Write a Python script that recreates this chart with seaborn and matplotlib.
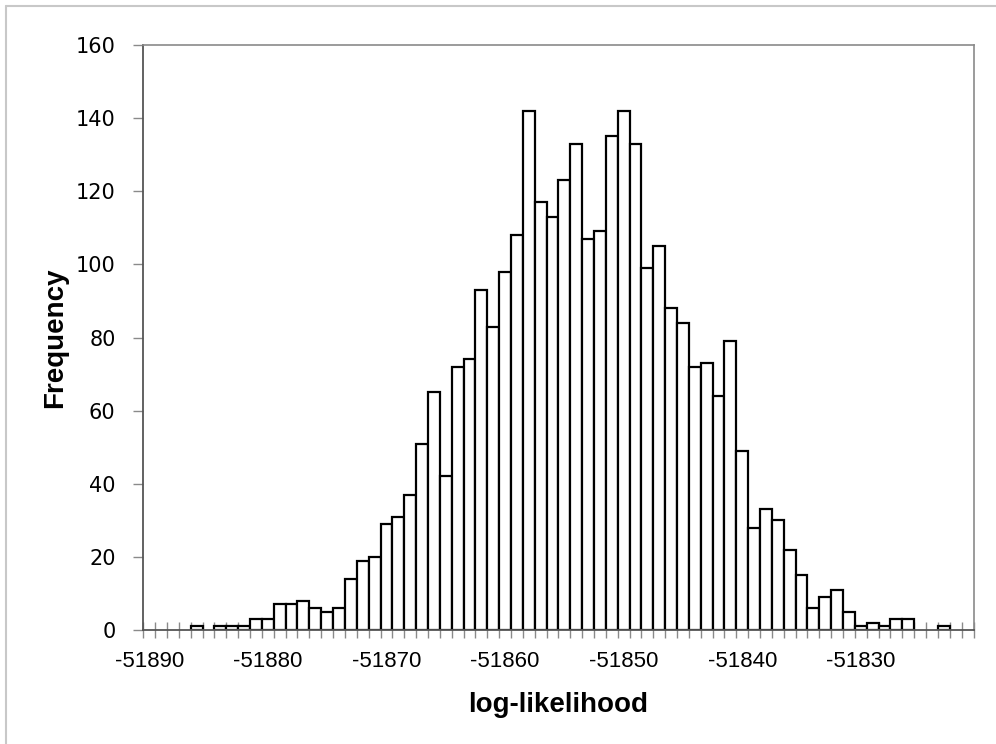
import matplotlib
matplotlib.use("Agg")
import matplotlib.pyplot as plt
import seaborn as sns
from matplotlib.ticker import FixedLocator
from matplotlib.lines import Line2D

# ---- data ----
categories = list(range(-51890, -51820))  # one bin per log-likelihood unit
counts = [0, 0, 0, 0, 1, 0, 1, 1, 1, 3,
          3, 7, 7, 8, 6, 5, 6, 14, 19, 20,
          29, 31, 37, 51, 65, 42, 72, 74, 93, 83,
          98, 108, 142, 117, 113, 123, 133, 107, 109, 135,
          142, 133, 99, 105, 88, 84, 72, 73, 64, 79,
          49, 28, 33, 30, 22, 15, 6, 9, 11, 5,
          1, 2, 1, 3, 3, 0, 0, 1, 0, 0]
x_tick_labels = [-51890, -51880, -51870, -51860, -51850, -51840, -51830]
y_ticks = [0, 20, 40, 60, 80, 100, 120, 140, 160]

sns.set_theme(style="ticks")
plt.rcParams['font.family'] = ['DejaVu Sans']
plt.rcParams['text.color'] = 'black'
plt.rcParams['axes.labelcolor'] = 'black'

W, H = 996, 744
fig = plt.figure(figsize=(W / 100, H / 100), dpi=100)
left, right, top, bottom = 143.3, 973.5, 45, 630
ax = fig.add_axes([left / W, 1 - bottom / H, (right - left) / W, (bottom - top) / H])

sns.histplot(x=categories, weights=counts, discrete=True, color='white',
             edgecolor='black', linewidth=1.6, alpha=1, ax=ax)
for p in ax.patches:
    if p.get_height() == 0:
        p.set_visible(False)

ax.set_xlim(categories[0] - 0.5, categories[-1] + 0.5)
ax.set_ylim(0, 160)
ax.set_yticks(y_ticks)
ax.set_yticklabels([str(v) for v in y_ticks], fontsize=15, family='DejaVu Sans')
ax.set_xticks(x_tick_labels)
ax.set_xticklabels([str(v) for v in x_tick_labels], fontsize=16, family='Liberation Sans')
ax.xaxis.set_minor_locator(FixedLocator([c - 0.5 for c in categories] + [categories[-1] + 0.5]))

ax.tick_params(axis='x', which='major', length=0, pad=15, labelcolor='black')
ax.tick_params(axis='x', which='minor', length=11, direction='inout', width=1.0, color='#8a8a8a')
ax.tick_params(axis='y', which='major', length=7, direction='out', width=1.0, color='#8a8a8a',
               pad=13, labelcolor='black')

for side in ['top', 'right']:
    ax.spines[side].set_color('#8a8a8a')
    ax.spines[side].set_linewidth(1.2)
    ax.spines[side].set_visible(True)
for side in ['left', 'bottom']:
    ax.spines[side].set_color('#555555')
    ax.spines[side].set_linewidth(1.3)

ax.set_xlabel('log-likelihood', fontsize=20, fontweight='bold', family='Liberation Sans', color='black')
ax.set_ylabel('Frequency', fontsize=20, fontweight='bold', family='Liberation Sans', color='black')
ax.xaxis.set_label_coords(0.5, (bottom - 705) / (bottom - top))
ax.xaxis.label.set_verticalalignment('center')
ax.yaxis.set_label_coords((55 - left) / (right - left), 0.5)
ax.yaxis.label.set_verticalalignment('center')

# outer chart border (light gray, left and top visible)
fig.add_artist(Line2D([6 / W, 6 / W], [0, 1 - 6 / H], color='#c8c8c8', lw=1.5, transform=fig.transFigure))
fig.add_artist(Line2D([6 / W, 1], [1 - 6 / H, 1 - 6 / H], color='#c8c8c8', lw=1.5, transform=fig.transFigure))

fig.savefig('out.png', dpi=100, facecolor='white')
